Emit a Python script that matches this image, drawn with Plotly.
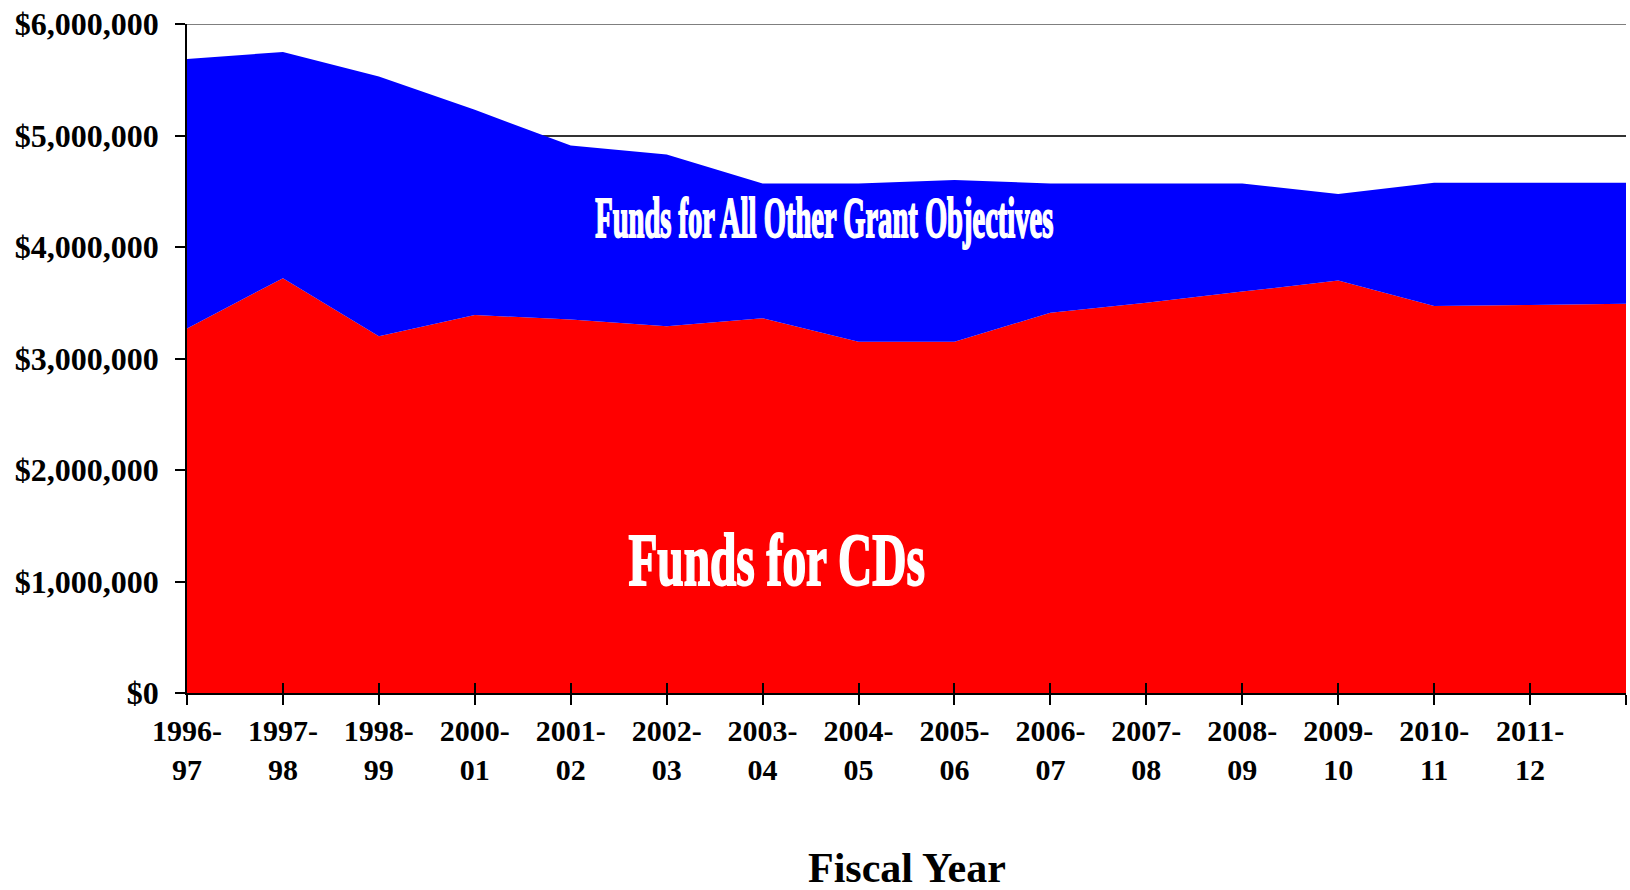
import plotly.graph_objects as go

# ---- data ----
fiscal_years = ["1996-<br>97", "1997-<br>98", "1998-<br>99", "2000-<br>01", "2001-<br>02",
                "2002-<br>03", "2003-<br>04", "2004-<br>05", "2005-<br>06", "2006-<br>07",
                "2007-<br>08", "2008-<br>09", "2009-<br>10", "2010-<br>11", "2011-<br>12", ""]
cd_funds = [3270000, 3720000, 3200000, 3390000, 3350000, 3290000, 3360000, 3150000,
            3150000, 3410000, 3500000, 3600000, 3700000, 3470000, 3480000, 3490000]
other_funds = [2416000, 2030000, 2330000, 1840000, 1560000, 1540000, 1210000, 1420000,
               1450000, 1160000, 1070000, 970000, 775000, 1107000, 1097000, 1087000]
y_ticks = [0, 1000000, 2000000, 3000000, 4000000, 5000000, 6000000]

x = list(range(len(fiscal_years)))
FONT = "Liberation Serif, Times New Roman, serif"

fig = go.Figure()
fig.add_trace(go.Scatter(x=x, y=cd_funds, stackgroup="one", mode="none",
                         fillcolor="#FF0000", name="Funds for CDs", hoverinfo="x+y"))
fig.add_trace(go.Scatter(x=x, y=other_funds, stackgroup="one", mode="none",
                         fillcolor="#0000FF", name="Funds for All Other Grant Objectives",
                         hoverinfo="x+y"))

# invisible trace to anchor overlay axis (inside ticks -> crossing ticks)
fig.add_trace(go.Scatter(x=[x[0], x[-1]], y=[0, 0], xaxis="x2", mode="none",
                         showlegend=False, hoverinfo="skip"))

fig.update_layout(
    width=1630, height=890,
    margin=dict(l=187, r=4, t=24, b=197),
    plot_bgcolor="white", paper_bgcolor="white",
    showlegend=False,
    font=dict(family=FONT, color="black"),
    xaxis=dict(
        range=[0, len(x) - 1], tickmode="array", tickvals=x, ticktext=fiscal_years,
        showgrid=False, zeroline=False, showline=True, linecolor="black", linewidth=1.5,
        ticks="outside", ticklen=10, tickcolor="black", tickwidth=1.5,
        tickfont=dict(family=FONT, size=30, color="black", weight="bold"),
        tickangle=0, ticklabelstandoff=0,
    ),
    xaxis2=dict(
        overlaying="x", range=[0, len(x) - 1], tickmode="array", tickvals=x,
        showticklabels=False, showgrid=False, zeroline=False, showline=False,
        ticks="inside", ticklen=10, tickcolor="black", tickwidth=1.5, side="bottom",
        anchor="y",
    ),
    yaxis=dict(
        range=[0, 6000000], tickmode="array", tickvals=y_ticks, tickformat="$,.0f",
        showgrid=True, gridcolor="#333333", gridwidth=1.5, zeroline=False,
        showline=True, linecolor="black", linewidth=1.5,
        ticks="outside", ticklen=10, tickcolor="black", tickwidth=1.5,
        tickfont=dict(family=FONT, size=32, color="black", weight="bold"),
        ticklabelstandoff=10,
    ),
    shapes=[
        dict(type="line", xref="paper", yref="y", x0=0, x1=1, y0=y_ticks[-1], y1=y_ticks[-1],
             line=dict(color="#555555", width=1.5), layer="below"),
    ],
    annotations=[
        dict(text="Funds for All Other Grant Objectives", xref="paper", yref="y",
             x=0.4427, y=4260000, xanchor="center", yanchor="middle", showarrow=False,
             font=dict(family=FONT, size=56, color="white", weight="bold")),
        dict(text="Funds for CDs", xref="paper", yref="y",
             x=0.410, y=1190000, xanchor="center", yanchor="middle", showarrow=False,
             font=dict(family=FONT, size=74, color="white", weight="bold")),
        dict(text="Fiscal Year", xref="paper", yref="paper",
             x=0.5, y=-0.262, xanchor="center", yanchor="middle", showarrow=False,
             font=dict(family=FONT, size=42, color="black", weight="bold")),
    ],
)

post = """
document.body.style.margin = '0';
document.body.style.padding = '0';
var gd = document.getElementById('{plot_id}');
function squeeze(){
  var texts = gd.querySelectorAll('g.annotation text.annotation-text');
  texts.forEach(function(t){
    var s = 1;
    if (t.textContent.indexOf('Objectives') >= 0) s = 0.51;
    else if (t.textContent.indexOf('CDs') >= 0) s = 0.64;
    if (s < 1) {
      t.style.transformBox = 'fill-box';
      t.style.transformOrigin = 'center';
      t.style.transform = 'scaleX(' + s + ')';
      t.style.stroke = 'white';
      t.style.strokeWidth = '2px';
    }
  });
}
squeeze();
if (gd.on) gd.on('plotly_afterplot', squeeze);
"""

fig.write_html("out.html", post_script=post, config={"displayModeBar": False})
